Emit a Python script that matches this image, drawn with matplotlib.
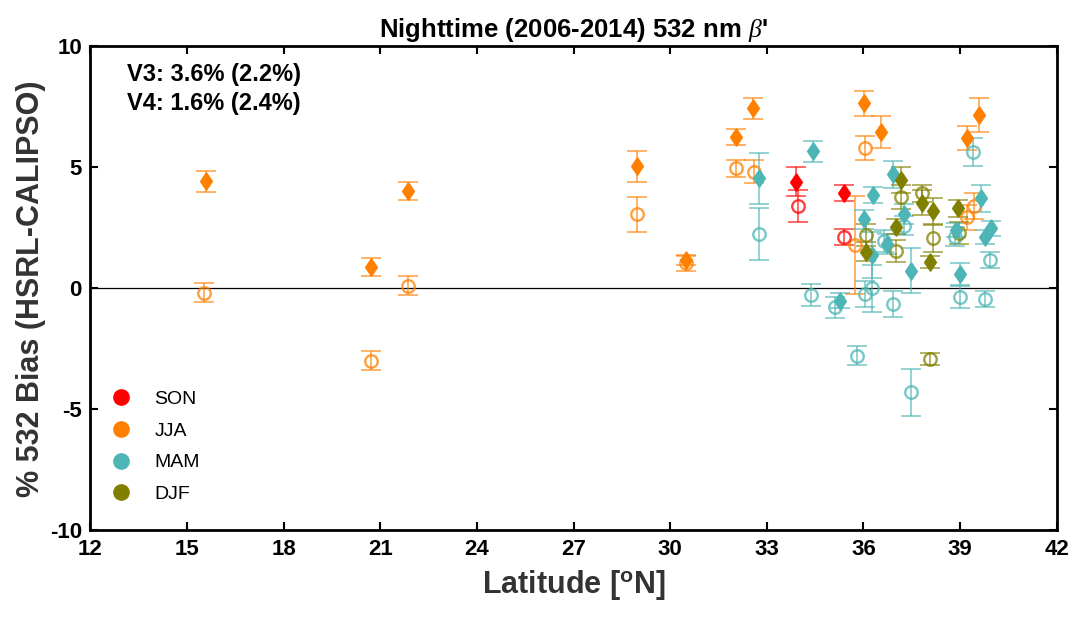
#!/usr/bin/env python
"""
nighttime 532 nm backscatter bias vs latitude, by season
"""

import matplotlib
matplotlib.use('Agg')
import matplotlib.pyplot as plt
from matplotlib.lines import Line2D

plt.rcParams['font.family'] = ['Liberation Sans', 'DejaVu Sans']
plt.rcParams['mathtext.fontset'] = 'custom'
plt.rcParams['mathtext.rm'] = 'Liberation Sans'
plt.rcParams['mathtext.it'] = 'Liberation Serif:italic'
plt.rcParams['mathtext.bf'] = 'Liberation Sans:bold'
plt.rcParams['axes.unicode_minus'] = False

# SON
son_lat3 = [33.9, 35.4]
son_val3 = [4.4, 3.93]
son_err3 = [0.6, 0.32]
son_lat4 = [33.98, 35.4]
son_val4 = [3.4, 2.13]
son_err4 = [0.67, 0.32]

# JJA
jja_lat3 = [15.59, 20.7, 21.87, 28.98, 30.48, 32.03, 32.58, 36.01, 36.55, 39.22, 39.57]
jja_val3 = [4.43, 0.89, 4.03, 5.05, 1.15, 6.26, 7.44, 7.64, 6.45, 6.2, 7.16]
jja_err3 = [0.43, 0.38, 0.37, 0.64, 0.2, 0.32, 0.43, 0.5, 0.67, 0.5, 0.69]
jja_lat4 = [15.52, 20.71, 21.87, 28.96, 30.48, 32.03, 32.6, 36.04, 35.73, 39.22, 39.44]
jja_val4 = [-0.18, -2.99, 0.11, 3.06, 1.03, 4.96, 4.82, 5.81, 1.79, 2.93, 3.4]
jja_err4 = [0.39, 0.38, 0.38, 0.72, 0.33, 0.35, 0.48, 0.5, 2.03, 0.5, 0.55]

# MAM
mam_lat3 = [32.75, 34.44, 35.26, 36.02, 36.27, 36.3, 36.74, 36.93, 37.26, 37.46,
            38.86, 38.99, 39.66, 39.77, 39.95]
mam_val3 = [4.55, 5.67, -0.51, 2.85, 1.38, 3.86, 1.83, 4.72, 3.07, 0.73,
            2.41, 0.59, 3.72, 2.13, 2.48]
mam_err3 = [1.05, 0.43, 0.3, 0.38, 0.95, 0.32, 0.4, 0.56, 0.4, 0.93,
            0.3, 0.46, 0.55, 0.3, 0.3]
mam_lat4 = [32.75, 34.38, 35.12, 35.8, 36.04, 36.27, 36.65, 36.93, 37.26, 37.46,
            38.84, 38.99, 39.4, 39.77, 39.93]
mam_val4 = [2.23, -0.28, -0.79, -2.78, -0.24, 0.0, 1.95, -0.65, 2.59, -4.3,
            2.13, -0.35, 5.64, -0.44, 1.17]
mam_err4 = [1.07, 0.47, 0.45, 0.41, 0.55, 0.97, 0.45, 0.54, 0.4, 0.98,
            0.4, 0.46, 0.57, 0.34, 0.32]

# DJF
djf_lat3 = [36.07, 37.0, 37.16, 37.83, 38.06, 38.17, 38.93]
djf_val3 = [1.51, 2.55, 4.47, 3.54, 1.1, 3.19, 3.3]
djf_err3 = [0.4, 0.3, 0.55, 0.52, 0.25, 0.55, 0.35]
djf_lat4 = [36.09, 37.0, 37.16, 37.83, 38.06, 38.17, 38.95]
djf_val4 = [2.2, 1.55, 3.79, 3.92, -2.92, 2.07, 2.3]
djf_err4 = [0.45, 0.45, 0.5, 0.35, 0.24, 0.55, 0.45]

seasons = ['SON', 'JJA', 'MAM', 'DJF']
colors = {'SON': '#ff0000', 'JJA': '#ff8000', 'MAM': '#4db5b5', 'DJF': '#808000'}
data = {
    'SON': (son_lat3, son_val3, son_err3, son_lat4, son_val4, son_err4),
    'JJA': (jja_lat3, jja_val3, jja_err3, jja_lat4, jja_val4, jja_err4),
    'MAM': (mam_lat3, mam_val3, mam_err3, mam_lat4, mam_val4, mam_err4),
    'DJF': (djf_lat3, djf_val3, djf_err3, djf_lat4, djf_val4, djf_err4),
}

# matlab-ish diamond, wider than mpl's thin 'd'
DIAMOND = [(0, 1), (0.68, 0), (0, -1), (-0.68, 0), (0, 1)]

fig = plt.figure(figsize=(10.74, 6.18), dpi=100)
ax = fig.add_axes([0.084, 0.142, 0.900, 0.783])

ax.axhline(0, color='k', lw=0.9, zorder=1)

for s in ['JJA', 'MAM', 'DJF', 'SON']:
    lat3, val3, err3, lat4, val4, err4 = data[s]
    c = colors[s]
    # V4: open circles
    ax.errorbar(lat4, val4, yerr=err4, fmt='none', ecolor=c, elinewidth=1.4,
                capsize=7.5, capthick=1.4, alpha=0.6, zorder=2)
    ax.plot(lat4, val4, 'o', ms=9, mfc='none', mec=c, mew=1.7, alpha=0.75,
            ls='none', zorder=3)
    # V3: filled diamonds
    ax.errorbar(lat3, val3, yerr=err3, fmt='none', ecolor=c, elinewidth=1.4,
                capsize=7.5, capthick=1.4, alpha=0.6, zorder=2)
    ax.plot(lat3, val3, marker=DIAMOND, ms=12.5, mfc=c, mec=c, ls='none', zorder=4)

ax.set_xlim(12, 42)
ax.set_ylim(-10, 10)
ax.set_xticks(range(12, 43, 3))
ax.set_yticks([-10, -5, 0, 5, 10])
ax.tick_params(direction='in', length=6, width=1.5, top=True, right=True,
               labelsize=16, pad=6)
for lab in ax.get_xticklabels() + ax.get_yticklabels():
    lab.set_fontweight('bold')
for sp in ax.spines.values():
    sp.set_linewidth(2)

ax.set_xlabel(r'Latitude [$^\mathbf{o}$N]', fontsize=22, fontweight='bold',
              color='#333333', labelpad=6)
ax.set_ylabel('% 532 Bias (HSRL-CALIPSO)', fontsize=22, fontweight='bold',
              color='#333333', labelpad=3)
ax.set_title(r"Nighttime (2006-2014) 532 nm $\beta$'", fontsize=18.5,
             fontweight='bold', pad=7)

ax.text(0.038, 0.965, 'V3: 3.6% (2.2%)\nV4: 1.6% (2.4%)', transform=ax.transAxes,
        fontsize=17, fontweight='bold', va='top', ha='left', linespacing=1.3)

handles = [Line2D([], [], marker='o', ls='none', ms=11, mfc=colors[s], mec=colors[s])
           for s in seasons]
ax.legend(handles, seasons, loc='lower left', bbox_to_anchor=(-0.012, 0.008),
          frameon=False, fontsize=14, labelspacing=0.72, handletextpad=0.7,
          borderaxespad=0.8)

plt.savefig('out.png', dpi=100)
